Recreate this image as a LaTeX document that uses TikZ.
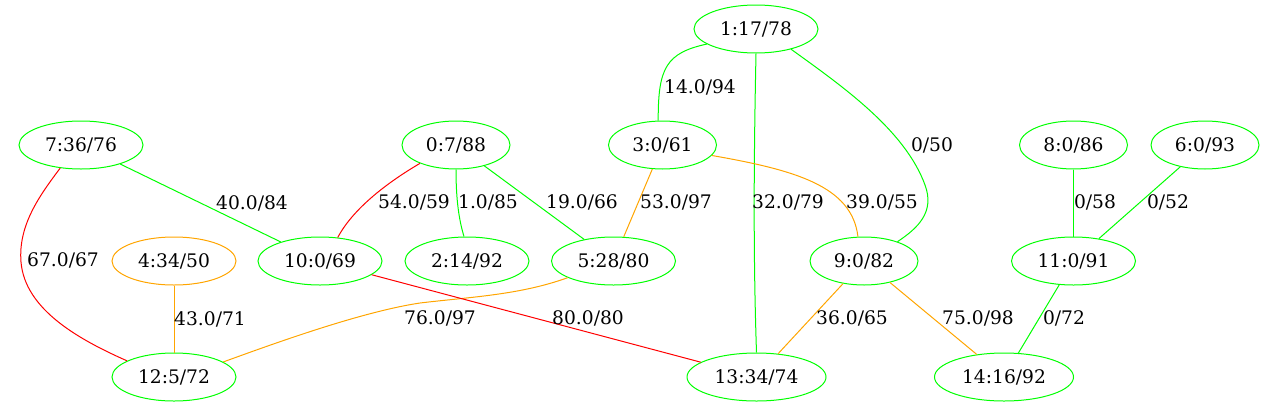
\documentclass[tikz,border=0pt]{standalone}
\usepackage{fontspec}
\setmainfont{DejaVu Serif}
\usetikzlibrary{shapes.geometric}
\definecolor{gvgreen}{HTML}{00FF00}
\definecolor{gvorange}{HTML}{FFA500}
\definecolor{gvred}{HTML}{FF0000}
\tikzset{
  gnode/.style={ellipse, draw=gvgreen, line width=1pt, inner sep=0pt, minimum height=48pt,
     font=\fontsize{18.67pt}{22pt}\selectfont},
  onode/.style={gnode, draw=gvorange},
  wsix/.style={minimum width=108pt},
  wseven/.style={minimum width=124pt},
  weight/.style={minimum width=139pt},
  elab/.style={anchor=base, inner sep=0pt, font=\fontsize{18.67pt}{22pt}\selectfont},
  ge/.style={draw=gvgreen, line width=1pt},
  oe/.style={draw=gvorange, line width=1pt},
  re/.style={draw=gvred, line width=1pt},
}
\begin{document}
\begin{tikzpicture}[x=1pt, y=-1pt]
\useasboundingbox (0,0) rectangle (1265,407);
% nodes
\node[gnode, wseven] (n1) at (756,29) {1:17/78};
\node[gnode, wseven] (n7) at (81,145) {7:36/76};
\node[gnode, wsix] (n0) at (456,145) {0:7/88};
\node[gnode, wsix] (n3) at (662.5,145) {3:0/61};
\node[gnode, wsix] (n8) at (1073.5,145) {8:0/86};
\node[gnode, wsix] (n6) at (1205,145) {6:0/93};
\node[onode, wseven] (n4) at (174,261) {4:34/50};
\node[gnode, wseven] (n10) at (320,261) {10:0/69};
\node[gnode, wseven] (n2) at (467,261) {2:14/92};
\node[gnode, wseven] (n5) at (613.5,261) {5:28/80};
\node[gnode, wsix] (n9) at (864,261) {9:0/82};
\node[gnode, wseven] (n11) at (1073.5,261) {11:0/91};
\node[gnode, wseven] (n12) at (174,377) {12:5/72};
\node[gnode, weight] (n13) at (756.5,377) {13:34/74};
\node[gnode, weight] (n14) at (1004,377) {14:16/92};
% edges
\draw[ge] (n1.197) .. controls (666,53) and (658,68) .. (n3.100);
\draw[ge] (n1.south) .. controls (754,150) and (753,250) .. (n13.north);
\draw[ge] (n1.330) .. controls (842,86) and (905,130) .. (925,185) .. controls (935,212) and (918,228) .. (n9.30);
\draw[ge] (n7) -- (n10);
\draw[re] (n7.228) .. controls (40,195) and (18,225) .. (21,262) .. controls (25,310) and (80,340) .. (n12.161);
\draw[re] (n0.207) .. controls (395,178) and (355,205) .. (n10.53);
\draw[ge] (n0.south) .. controls (456,200) and (459,220) .. (n2.97);
\draw[ge] (n0) -- (n5);
\draw[oe] (n3) -- (n5);
\draw[oe] (n3.348) .. controls (795,170) and (852,186) .. (n9.104);
\draw[ge] (n8) -- (n11);
\draw[ge] (n6) -- (n11);
\draw[oe] (n4) -- (n12);
\draw[oe] (n5.200) .. controls (520,295) and (470,297) .. (420,303) .. controls (360,312) and (270,345) .. (n12.17);
\draw[re] (n10) -- (n13);
\draw[oe] (n9) -- (n13);
\draw[oe] (n9) -- (n14);
\draw[ge] (n11) -- (n14);
% labels
\node[elab] (l1) at (700,93) {14.0/94};
\node[elab] (l2) at (932,151) {0/50};
\node[elab] (l3) at (788,208) {32.0/79};
\node[elab] (l4) at (252,209) {40.0/84};
\node[elab] (l5) at (63,266) {67.0/67};
\node[elab] (l6) at (414,208) {54.0/59};
\node[elab] (l7) at (488,208) {1.0/85};
\node[elab] (l8) at (582,208) {19.0/66};
\node[elab] (l9) at (676,208) {53.0/97};
\node[elab] (l10) at (882,208) {39.0/55};
\node[elab] (l11) at (1095,208) {0/58};
\node[elab] (l12) at (1168,208) {0/52};
\node[elab] (l13) at (210,325) {43.0/71};
\node[elab] (l14) at (440,324) {76.0/97};
\node[elab] (l15) at (588,324) {80.0/80};
\node[elab] (l16) at (852,324) {36.0/65};
\node[elab] (l17) at (978,324) {75.0/98};
\node[elab] (l18) at (1064,324) {0/72};
\end{tikzpicture}
\end{document}
